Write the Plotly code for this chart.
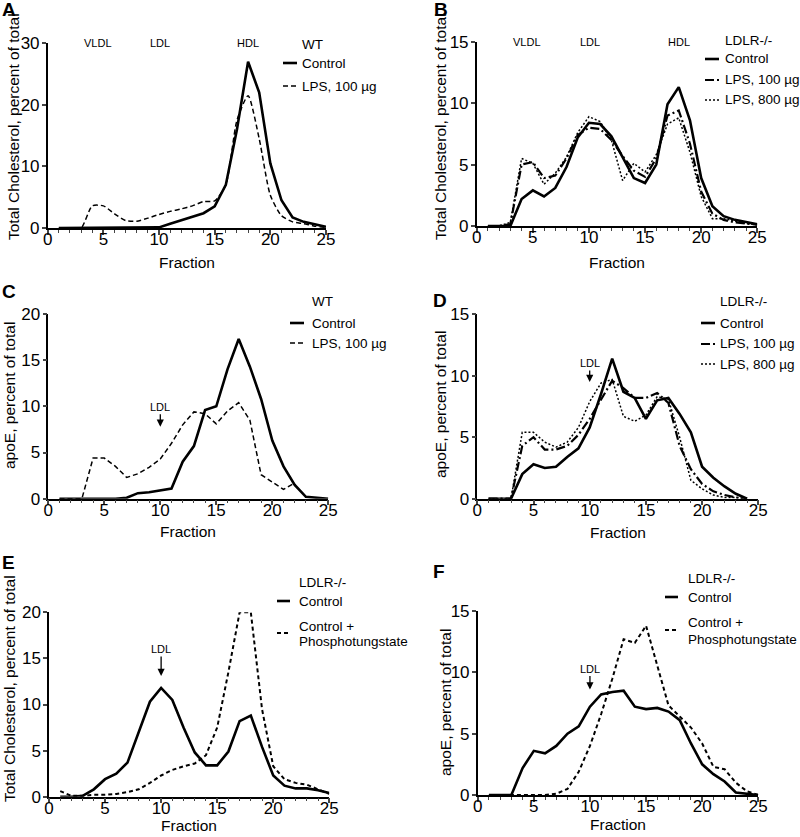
import plotly.graph_objects as go

W, H = 800, 837
FONT = "Liberation Sans, Arial, sans-serif"

fractions = list(range(1, 26))

# Panel A: WT total cholesterol
A_control = [0, 0, 0, 0, 0, 0, 0, 0, 0, 0.1, 0.7, 1.3, 1.8, 2.4, 3.5, 7.0, 16.0, 27.0, 22.0, 10.5, 4.5, 1.7, 1.0, 0.6, 0.2]
A_lps100 = [0, 0, 0, 3.6, 3.6, 2.3, 1.2, 1.1, 1.6, 2.2, 2.7, 3.1, 3.6, 4.3, 4.4, 7.0, 17.5, 21.5, 14.5, 5.3, 2.0, 1.0, 0.7, 0.3, 0.1]

# Panel B: LDLR-/- total cholesterol
B_control = [0, 0, 0, 2.2, 2.9, 2.4, 3.1, 4.8, 7.2, 8.4, 8.3, 7.3, 5.6, 3.9, 3.5, 5.0, 9.9, 11.3, 8.6, 3.9, 1.6, 0.8, 0.5, 0.3, 0.15]
B_lps100 = [0, 0, 0.15, 5.0, 5.2, 3.9, 4.1, 5.5, 7.4, 8.0, 7.9, 7.0, 5.7, 4.5, 4.0, 5.5, 9.0, 9.4, 6.7, 2.8, 1.0, 0.5, 0.3, 0.2, 0.1]
B_lps800 = [0, 0, 0.3, 5.5, 5.1, 3.4, 4.3, 5.6, 7.6, 8.9, 8.5, 7.0, 3.7, 5.1, 4.4, 5.8, 8.3, 8.8, 6.0, 2.4, 0.6, 0.6, 0.4, 0.2, 0.1]

# Panel C: WT apoE
C_control = [0, 0, 0, 0, 0, 0, 0.1, 0.6, 0.7, 0.9, 1.1, 4.0, 5.7, 9.6, 10.0, 14.0, 17.3, 14.3, 10.8, 6.3, 3.5, 1.5, 0.2, 0.1, 0]
C_lps100 = [0, 0, 0, 4.4, 4.4, 3.5, 2.3, 2.7, 3.4, 4.3, 6.0, 8.0, 9.4, 9.2, 8.1, 9.5, 10.4, 8.5, 2.6, 1.8, 1.0, 1.7, None, None, None]

# Panel D: LDLR-/- apoE
D_control = [0, 0, 0, 2.0, 2.8, 2.5, 2.6, 3.4, 4.1, 5.8, 8.5, 11.4, 8.7, 8.2, 6.5, 8.0, 8.2, 6.9, 5.4, 2.6, 1.7, 1.0, 0.4, 0, None]
D_lps100 = [0, 0, 0, 4.3, 5.0, 4.0, 4.0, 4.3, 5.2, 6.5, 8.0, 9.6, 9.0, 8.2, 8.2, 8.6, 7.8, 4.3, 2.4, 1.2, 0.6, 0.3, 0.1, 0, None]
D_lps800 = [0, 0, 0, 5.4, 5.4, 4.6, 4.2, 4.6, 5.8, 7.9, 9.4, 9.7, 6.7, 6.3, 6.8, 8.3, 8.1, 5.0, 1.5, 0.8, 0.3, 0.1, 0.1, 0, None]

# Panel E: LDLR-/- total cholesterol, phosphotungstate
E_control = [0, 0, 0.1, 0.8, 1.9, 2.5, 3.7, 6.9, 10.3, 11.8, 10.5, 7.5, 4.8, 3.4, 3.4, 4.9, 8.2, 8.8, 5.4, 2.3, 1.2, 0.9, 0.9, 0.7, 0.4]
E_phospho = [0.6, 0.1, 0.1, 0.2, 0.2, 0.3, 0.5, 0.8, 1.5, 2.3, 2.9, 3.3, 3.6, 4.5, 7.5, 13.5, 20.0, 20.0, 9.5, 3.3, 1.9, 1.5, 1.3, 0.8, 0.3]

# Panel F: LDLR-/- apoE, phosphotungstate
F_control = [0, 0, 0, 2.2, 3.6, 3.4, 4.0, 5.0, 5.6, 7.2, 8.2, 8.4, 8.5, 7.2, 7.0, 7.1, 6.8, 6.1, 4.2, 2.5, 1.7, 1.1, 0.2, 0.1, 0]
F_phospho = [0, 0, 0, 0, 0, 0, 0.1, 0.5, 1.9, 4.0, 6.6, 9.5, 12.7, 12.4, 13.8, 10.5, 7.3, 6.4, 5.5, 4.2, 2.3, 2.1, 1.0, 0.3, 0]

x_ticks = [0, 5, 10, 15, 20, 25]
y_ticks_A = [0, 10, 20, 30]
y_ticks_15 = [0, 5, 10, 15]
y_ticks_20 = [0, 5, 10, 15, 20]


def px(x):
    return x / W


def py(y):
    return 1 - y / H


SOLID = dict(color="black", width=2.6)
DASH = dict(color="black", width=1.5, dash="5px,3px")
DASHDOT = dict(color="black", width=2.2, dash="9px,3px,2px,3px")
DOT = dict(color="black", width=1.5, dash="2px,2px")
SQDASH = dict(color="black", width=2.0, dash="4px,3px")

# panels: key, x px range, y px range, ymax, yticks, fraction-label offset
panels = [
    ("1", (47.7, 326.0), (43.3, 228.0), 30, y_ticks_A, 34),
    ("2", (476.7, 757.3), (41.7, 226.0), 15, y_ticks_15, 36),
    ("3", (48.3, 328.3), (314.0, 498.7), 20, y_ticks_20, 33),
    ("4", (477.3, 758.3), (314.3, 498.7), 15, y_ticks_15, 34),
    ("5", (49.0, 329.3), (612.3, 796.7), 20, y_ticks_20, 29),
    ("6", (477.7, 758.3), (611.0, 795.0), 15, y_ticks_15, 29),
]

series = [
    ("1", A_control, SOLID, "linear"),
    ("1", A_lps100, DASH, "spline"),
    ("2", B_control, SOLID, "linear"),
    ("2", B_lps100, DASHDOT, "linear"),
    ("2", B_lps800, DOT, "linear"),
    ("3", C_control, SOLID, "linear"),
    ("3", C_lps100, DASH, "linear"),
    ("4", D_control, SOLID, "linear"),
    ("4", D_lps100, DASHDOT, "linear"),
    ("4", D_lps800, DOT, "linear"),
    ("5", E_control, SOLID, "linear"),
    ("5", E_phospho, SQDASH, "linear"),
    ("6", F_control, SOLID, "linear"),
    ("6", F_phospho, SQDASH, "linear"),
]

fig = go.Figure()
for key, ys, style, shape in series:
    suffix = "" if key == "1" else key
    fig.add_trace(go.Scatter(
        x=fractions, y=ys, mode="lines", line=dict(shape=shape, smoothing=0.6, **style),
        xaxis="x" + suffix, yaxis="y" + suffix, showlegend=False, connectgaps=False,
    ))

layout = dict(
    width=W, height=H, margin=dict(l=0, r=0, t=0, b=0, autoexpand=False),
    paper_bgcolor="white", plot_bgcolor="white",
    font=dict(family=FONT, color="black", size=16),
    showlegend=False,
)

annotations = []
shapes = []

for key, (x0, x1), (y0, y1), ymax, yt, foff in panels:
    suffix = "" if key == "1" else key
    layout["xaxis" + suffix] = dict(
        domain=[px(x0), px(x1)], anchor="y" + suffix, range=[0, 25],
        tickvals=x_ticks, ticks="outside", ticklen=5, tickwidth=1.5,
        showline=True, linecolor="black", linewidth=1.5, showgrid=False, zeroline=False,
        tickfont=dict(size=17, family=FONT), automargin=False, ticklabelstandoff=-10,
        minor=dict(dtick=1, tick0=0, ticks="outside", ticklen=3, tickwidth=1.2, showgrid=False),
    )
    layout["yaxis" + suffix] = dict(
        domain=[py(y1), py(y0)], anchor="x" + suffix, range=[0, ymax],
        tickvals=yt, ticks="outside", ticklen=4, tickwidth=1.5,
        showline=True, linecolor="black", linewidth=1.5, showgrid=False, zeroline=False,
        tickfont=dict(size=17, family=FONT), automargin=False, ticklabelstandoff=-1,
    )
    annotations.append(dict(
        text="Fraction", xref="paper", yref="paper", x=px((x0 + x1) / 2), y=py(y1 + foff),
        xanchor="center", yanchor="middle", showarrow=False, font=dict(size=15.5, family=FONT),
    ))

# y axis titles (x center px, y center px, text)
ytitles = [
    (13, 127, "Total Cholesterol, percent of total"),
    (440, 127, "Total Cholesterol, percent of total"),
    (9, 396, "apoE, percent of total"),
    (440, 405, "apoE, percent of total"),
    (9, 689, "Total Cholesterol, percent of total"),
    (445, 703, "apoE, percent of total"),
]
for xc, yc, t in ytitles:
    annotations.append(dict(
        text=t, xref="paper", yref="paper", x=px(xc), y=py(yc), textangle=-90,
        xanchor="center", yanchor="middle", showarrow=False, font=dict(size=15.5, family=FONT),
    ))

# panel letters
letters = [("A", 0, 0), ("B", 432, 0), ("C", 0, 282), ("D", 431, 291), ("E", 0, 553), ("F", 431, 562)]
for t, xl, yl in letters:
    annotations.append(dict(
        text="<b>%s</b>" % t, xref="paper", yref="paper", x=px(xl), y=py(yl - 3),
        xanchor="left", yanchor="top", showarrow=False, font=dict(size=19, family=FONT),
    ))

# lipoprotein class labels in A and B
for xr, yr, ymax in [("x", "y", 30), ("x2", "y2", 15)]:
    for label, xv in [("VLDL", 4.5), ("LDL", 10.1), ("HDL", 18)]:
        annotations.append(dict(
            text=label, xref=xr, yref=yr, x=xv, y=ymax, xanchor="center", yanchor="middle",
            showarrow=False, font=dict(size=11, family=FONT),
        ))

# LDL arrows in C-F
for xr, yr, tip, ay in [("x3", "y3", 7.8, -20), ("x4", "y4", 9.5, -19), ("x5", "y5", 13.1, -27), ("x6", "y6", 8.6, -21)]:
    annotations.append(dict(
        text="LDL", xref=xr, yref=yr, x=10, y=tip, ax=0, ay=ay, showarrow=True,
        arrowhead=2, arrowsize=1.1, arrowwidth=1.3, arrowcolor="black",
        font=dict(size=11, family=FONT), standoff=0,
    ))

LEG_FS = 13.5


def legend(title, tx, ty, items, lx0, lx1):
    annotations.append(dict(
        text=title, xref="paper", yref="paper", x=px(tx), y=py(ty), xanchor="left", yanchor="middle",
        showarrow=False, font=dict(size=LEG_FS, family=FONT),
    ))
    for style, ly, lines in items:
        shapes.append(dict(
            type="line", xref="paper", yref="paper", x0=px(lx0), x1=px(lx1), y0=py(ly), y1=py(ly),
            line=dict(color="black", width=style["width"], dash=style.get("dash", "solid")),
        ))
        for text, yy in lines:
            annotations.append(dict(
                text=text, xref="paper", yref="paper", x=px(tx), y=py(yy), xanchor="left",
                yanchor="middle", showarrow=False, font=dict(size=LEG_FS, family=FONT),
            ))


legend("WT", 300, 44, [(SOLID, 63, [("Control", 63)]), (DASH, 86, [("LPS, 100 µg", 86)])], 283, 297)
legend("LDLR-/-", 723, 40, [(SOLID, 59, [("Control", 59)]), (DASHDOT, 80, [("LPS, 100 µg", 80)]),
                            (DOT, 100, [("LPS, 800 µg", 100)])], 705, 719)
legend("WT", 310, 301, [(SOLID, 323, [("Control", 323)]), (DASH, 343, [("LPS, 100 µg", 343)])], 290, 304)
legend("LDLR-/-", 718, 302, [(SOLID, 323, [("Control", 323)]), (DASHDOT, 344, [("LPS, 100 µg", 344)]),
                             (DOT, 364, [("LPS, 800 µg", 364)])], 701, 715)
legend("LDLR-/-", 297, 582, [(SOLID, 601, [("Control", 601)]),
                             (SQDASH, 633, [("Control +", 626), ("Phosphotungstate", 641)])], 277, 290)
legend("LDLR-/-", 686, 578, [(SOLID, 597, [("Control", 597)]),
                             (SQDASH, 630, [("Control +", 622), ("Phosphotungstate", 639)])], 665, 678)

layout["annotations"] = annotations
layout["shapes"] = shapes
fig.update_layout(**layout)
fig.write_html(
    "out.html",
    config={"displayModeBar": False},
    post_script="document.body.style.margin='0';document.body.style.overflow='hidden';",
)
